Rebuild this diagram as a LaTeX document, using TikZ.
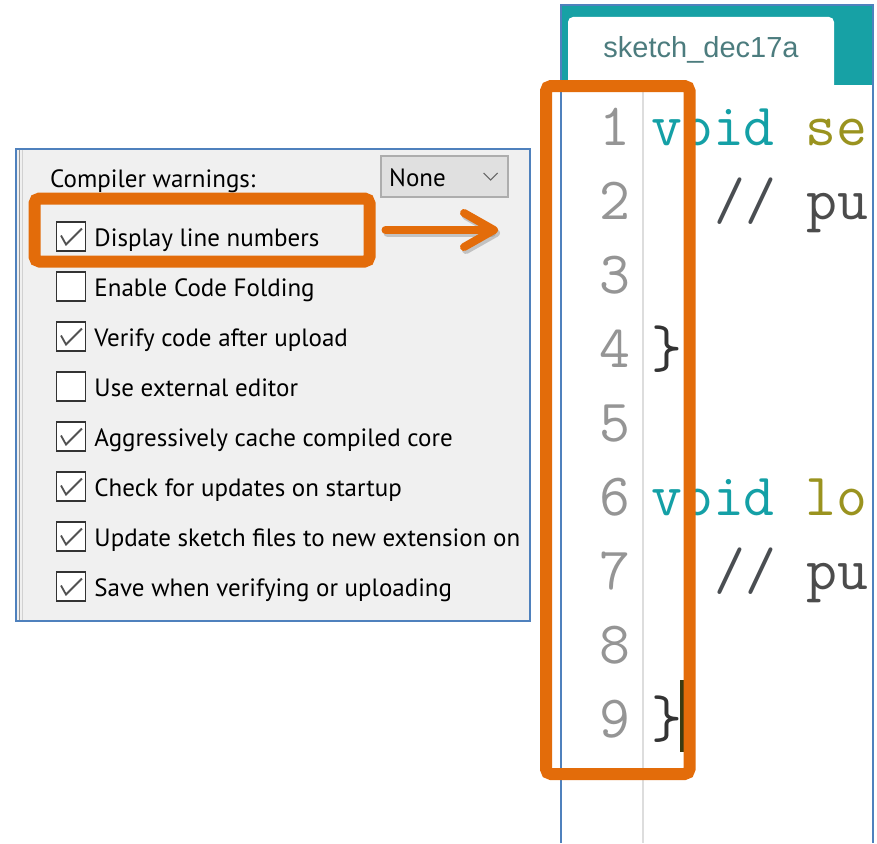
\documentclass[tikz,border=0pt]{standalone}
\usepackage{fontspec}
\newfontfamily\uifont{PT Sans}
\newfontfamily\tabfont{Liberation Sans}
\usetikzlibrary{arrows.meta,positioning,calc}
\definecolor{ardOrange}{HTML}{E36C0A}
\definecolor{ardFrame}{HTML}{4F81BD}
\definecolor{ardPanel}{HTML}{F0F0F0}
\definecolor{ardHead}{HTML}{17A1A5}
\definecolor{ardTabInk}{HTML}{4C7C7E}
\definecolor{ardKey}{HTML}{14A0A6}
\definecolor{ardFunc}{HTML}{9A931F}
\definecolor{ardNum}{HTML}{959595}
\definecolor{ardInk}{HTML}{333333}
\definecolor{ardCmt}{HTML}{4A4E52}
\definecolor{ardGutter}{HTML}{DDDDDD}
\definecolor{ardCursor}{HTML}{3B3B12}
\tikzset{
  opt/.style={inner sep=0pt, text height=20pt, text depth=1pt, font=\uifont\fontsize{25}{29}\selectfont, text=black},
  cbox/.style={draw=ardInk, fill=white, line width=1.5pt, minimum size=29pt, inner sep=0pt},
  cboxOn/.style={cbox, path picture={\draw[ardInk!85, line width=1.8pt] ([shift={(-10pt,1pt)}]path picture bounding box.center) -- ++(5pt,-9pt) -- ++(16pt,16pt);}},
  ddbox/.style={draw=black!32, fill=black!12, line width=1.2pt, minimum width=127pt, minimum height=41pt},
  hlbox/.style={draw=ardOrange, line width=12pt, rounded corners=5pt, inner sep=0pt},
  arr/.style={-{Straight Barb[length=30pt,width=34pt,round]}, line width=8pt, draw=ardOrange, line cap=round},
  arrshade/.style={arr, draw=black!45, opacity=0.45},
  tabshape/.style={fill=white, rounded corners=5pt, minimum width=266pt, minimum height=73pt},
  lnum/.style={anchor=base east, inner sep=0pt, font=\ttfamily\fontsize{60}{60}\selectfont, text=ardNum},
  code/.style={anchor=base west, inner sep=0pt, font=\ttfamily\fontsize{60}{60}\selectfont},
}
\begin{document}
\begin{tikzpicture}[x=1pt, y=-1pt, node distance=19.5pt]
  \useasboundingbox (0,0) rectangle (877,843);
  % preferences panel
  \draw[ardFrame, fill=ardPanel, line width=2pt] (16,149) rectangle (530,621);
  \draw[black!40, line width=1.5pt] (19.5,150) -- (19.5,620);
  \draw[black!18, line width=1.5pt] (22.5,150) -- (22.5,620);
  \node[opt, anchor=west] (warn) at (50,178) {Compiler warnings:};
  \node[ddbox] (dd) at (444.5,176.5) {};
  \node[opt, anchor=west] (ddtxt) at (389,176.5) {None};
  \draw[ardInk!75, line width=1.2pt] ([shift={(-25pt,3.5pt)}]dd.east) -- ++(7pt,-7pt) -- ++(7pt,7pt);
  \node[cboxOn] (c1) at (71,236.5) {};
  \node[cbox, below=of c1] (c2) {};
  \node[cboxOn, below=of c2] (c3) {};
  \node[cbox, below=of c3] (c4) {};
  \node[cboxOn, below=of c4] (c5) {};
  \node[cboxOn, below=of c5] (c6) {};
  \node[cboxOn, below=of c6] (c7) {};
  \node[cboxOn, below=of c7] (c8) {};
  \node[opt, right=8pt of c1] (t1) {Display line numbers};
  \node[opt, right=8pt of c2] (t2) {Enable Code Folding};
  \node[opt, right=8pt of c3] (t3) {Verify code after upload};
  \node[opt, right=8pt of c4] (t4) {Use external editor};
  \node[opt, right=8pt of c5] (t5) {Aggressively cache compiled core};
  \node[opt, right=8pt of c6] (t6) {Check for updates on startup};
  \node[opt, right=8pt of c7] (t7) {Update sketch files to new extension on};
  \node[opt, right=8pt of c8] (t8) {Save when verifying or uploading};
  % editor
  \fill[ardHead] (561,5) rectangle (873,85);
  \node[tabshape] (tab) at (701,53.5) {};
  \fill[white] (561,85) rectangle (873,843);
  \node[anchor=base, inner sep=0pt, font=\tabfont\fontsize{29}{30}\selectfont, text=ardTabInk] (tabtxt) at (701,57) {sketch\_dec17a};
  \draw[ardGutter, line width=1.5pt] (643,85) -- (643,843);
  \draw[ardFrame, line width=2pt] (561,843) -- (561,5) -- (873,5) -- (873,843);
  \node[lnum] (n1) at (631,145) {1}; \node[lnum] (n2) at (631,219) {2}; \node[lnum] (n3) at (631,293) {3};
  \node[lnum] (n4) at (631,367) {4}; \node[lnum] (n5) at (631,441) {5}; \node[lnum] (n6) at (631,515) {6};
  \node[lnum] (n7) at (631,589) {7}; \node[lnum] (n8) at (631,663) {8}; \node[lnum] (n9) at (631,737) {9};
  \node[code] (l1) at (651,145) {\textcolor{ardKey}{void} \textcolor{ardFunc}{se}};
  \node[code] (l2) at (714,219) {\textcolor{ardCmt}{//} \textcolor{black!70}{pu}};
  \node[code, text=ardInk] (l4) at (651,367) {\}};
  \node[code] (l6) at (651,515) {\textcolor{ardKey}{void} \textcolor{ardFunc}{lo}};
  \node[code] (l7) at (714,589) {\textcolor{ardCmt}{//} \textcolor{black!70}{pu}};
  \node[code, text=ardInk] (l9) at (651,737) {\}};
  \fill[ardCursor] (680,680) rectangle (684,752);
  % highlights
  \node[hlbox, minimum width=335pt, minimum height=63pt] (hlOpt) at (202,230) {};
  \node[hlbox, minimum width=143.5pt, minimum height=688pt] (hlNum) at (617.75,430) {};
  \draw[arrshade, shorten <=10pt, shorten >=42pt, transform canvas={xshift=2pt, yshift=-3pt}] (hlOpt.east) -- (hlOpt.east -| hlNum.west);
  \draw[arr, shorten <=10pt, shorten >=42pt] (hlOpt.east) -- (hlOpt.east -| hlNum.west);
\end{tikzpicture}
\end{document}
